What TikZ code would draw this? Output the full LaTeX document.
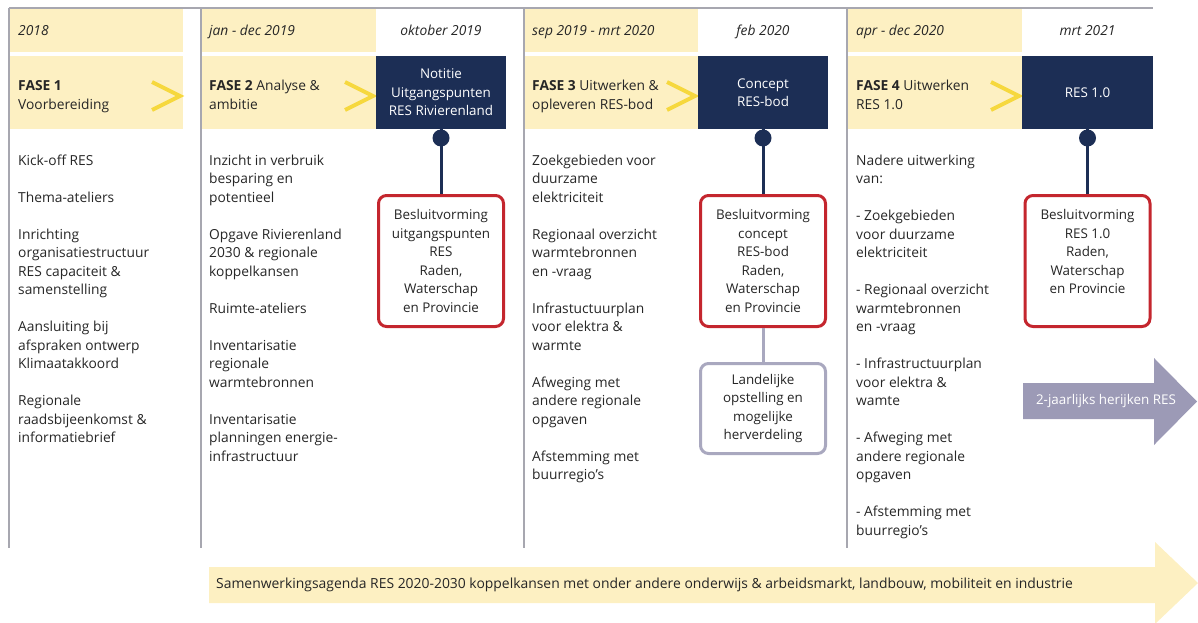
\documentclass[tikz,border=0pt]{standalone}
\usepackage{fontspec}
\setmainfont{Open Sans}
\usetikzlibrary{positioning}

\definecolor{navy}{HTML}{1C2E55}
\definecolor{fasegeel}{HTML}{FDF0C2}
\definecolor{chevgeel}{HTML}{F6D83E}
\definecolor{besluitrood}{HTML}{C4262E}
\definecolor{lijngrijs}{HTML}{A7A7B0}
\definecolor{kadergrijs}{HTML}{A9A8BF}
\definecolor{pijlgrijs}{HTML}{9C9AB6}
\definecolor{tekst}{HTML}{262626}

\newcommand{\bodyfont}{\fontsize{13.8}{18.5}\selectfont}
\newcommand{\boxfont}{\fontsize{13.4}{18.5}\selectfont}
\newcommand{\kolom}[1]{\parbox[t]{170pt}{\raggedright #1}}
\newcommand{\itemgap}{\\[18.5pt]}

\begin{document}
\begin{tikzpicture}[
    x=1pt, y=-1pt,
    kolomtekst/.style={anchor=base west, inner sep=0pt, font=\bodyfont, text=tekst},
    datum/.style={anchor=base, inner sep=0pt, font=\bodyfont\itshape, text=tekst},
    navybox/.style={fill=navy, text=white, font=\boxfont, align=center, minimum width=130pt, minimum height=73pt, inner sep=0pt, outer sep=0pt},
    besluit/.style={draw=besluitrood, line width=3pt, rounded corners=8pt, fill=white, font=\boxfont, text=tekst, align=center, minimum width=125pt, minimum height=131pt, inner sep=0pt},
    landelijk/.style={besluit, draw=kadergrijs},
    steel/.style={draw=navy, line width=3pt},
    chevron/.style={chevgeel, line width=4pt},
    kolomlijn/.style={lijngrijs, line width=1.5pt}
]
\useasboundingbox (0,0) rectangle (1198,623);

% gele vlakken met pijltjes
\foreach \xa/\xb in {10/183, 202/376, 525/698, 848/1022} {
  \fill[fasegeel] (\xa,9) rectangle (\xb,52);
  \fill[fasegeel] (\xa,56) rectangle (\xb,129);
  \draw[chevron] (\xb-31,82) -- (\xb-3,96) -- (\xb-31,110);
}

% kolomlijnen
\draw[kolomlijn] (9,8) -- (1153,8);
\foreach \x in {9,201,524,847} \draw[kolomlijn] (\x,8) -- (\x,548);

% periodes
\node[datum, anchor=base west] (jaar1) at (18,35.5) {2018};
\node[datum, anchor=base west] (jaar2) at (209,35.5) {jan - dec 2019};
\node[datum] (okt) at (441,35.5) {oktober 2019};
\node[datum, anchor=base west] (jaar3) at (532,35.5) {sep 2019 - mrt 2020};
\node[datum] (feb) at (763,35.5) {feb 2020};
\node[datum, anchor=base west] (jaar4) at (856,35.5) {apr - dec 2020};
\node[datum] (mrt) at (1087.5,35.5) {mrt 2021};

% fases
\node[kolomtekst] (fase1) at (18,91) {\kolom{\textbf{FASE 1}\\Voorbereiding}};
\node[kolomtekst] (fase2) at (209,91) {\kolom{\textbf{FASE 2} Analyse \&\\ambitie}};
\node[kolomtekst] (fase3) at (532,91) {\kolom{\textbf{FASE 3} Uitwerken \&\\opleveren RES-bod}};
\node[kolomtekst] (fase4) at (856,91) {\kolom{\textbf{FASE 4} Uitwerken\\RES 1.0}};

% mijlpalen
\node[navybox] (notitie) at (441,92.5) {Notitie\\Uitgangspunten\\RES Rivierenland};
\node[navybox] (concept) at (763,92.5) {Concept\\RES-bod};
\node[navybox, minimum width=131pt] (res) at (1087.5,92.5) {RES 1.0};

\node[besluit, below=65pt of notitie] (besluit1) {Besluitvorming\\uitgangspunten\\RES\\Raden,\\Waterschap\\en Provincie};
\node[besluit, below=65pt of concept] (besluit2) {Besluitvorming\\concept\\RES-bod\\Raden,\\Waterschap\\en Provincie};
\node[besluit, below=65pt of res] (besluit3) {Besluitvorming\\RES 1.0\\Raden,\\Waterschap\\en Provincie\\~};
\node[landelijk, minimum height=90pt, below=34pt of besluit2] (landelijk) {Landelijke\\opstelling en\\mogelijke\\herverdeling};

\draw[steel] (notitie.south) -- (besluit1.north);
\draw[steel] (concept.south) -- (besluit2.north);
\draw[steel] (res.south) -- (besluit3.north);
\draw[steel, draw=kadergrijs] (besluit2.south) -- (landelijk.north);
\fill[navy] ([yshift=-9pt]notitie.south) circle[radius=8.5pt];
\fill[navy] ([yshift=-9pt]concept.south) circle[radius=8.5pt];
\fill[navy] ([yshift=-9pt]res.south) circle[radius=8.5pt];

% activiteiten per fase
\node[kolomtekst] (acties1) at (18,165) {\kolom{Kick-off RES\itemgap Thema-ateliers\itemgap Inrichting\\organisatiestructuur\\RES capaciteit \&\\samenstelling\itemgap Aansluiting bij\\afspraken ontwerp\\Klimaatakkoord\itemgap Regionale\\raadsbijeenkomst \&\\informatiebrief}};
\node[kolomtekst] (acties2) at (209,165) {\kolom{Inzicht in verbruik\\besparing en\\potentieel\itemgap Opgave Rivierenland\\2030 \& regionale\\koppelkansen\itemgap Ruimte-ateliers\itemgap Inventarisatie\\regionale\\warmtebronnen\itemgap Inventarisatie\\planningen energie-\\infrastructuur}};
\node[kolomtekst] (acties3) at (532,165) {\kolom{Zoekgebieden voor\\duurzame\\elektriciteit\itemgap Regionaal overzicht\\warmtebronnen\\en -vraag\itemgap Infrastuctuurplan\\voor elektra \&\\warmte\itemgap Afweging met\\andere regionale\\opgaven\itemgap Afstemming met\\buurregio’s}};
\node[kolomtekst] (acties4) at (856,165) {\kolom{Nadere uitwerking\\van:\itemgap - Zoekgebieden\\voor duurzame\\elektriciteit\itemgap - Regionaal overzicht\\warmtebronnen\\en -vraag\itemgap - Infrastructuurplan\\voor elektra \&\\wamte\itemgap - Afweging met\\andere regionale\\opgaven\itemgap - Afstemming met\\buurregio’s}};

% herijken
\fill[pijlgrijs] (1023,383) -- (1154,383) -- (1154,358) -- (1197,401.5) -- (1154,445) -- (1154,419) -- (1023,419) -- cycle;
\node[font=\boxfont, text=white, inner sep=0pt] (herijken) at (1106,401) {2-jaarlijks herijken RES};

% samenwerkingsagenda
\fill[fasegeel] (209,567) -- (1155,567) -- (1155,542) -- (1198,583) -- (1155,624) -- (1155,603) -- (209,603) -- cycle;
\node[anchor=west, font=\fontsize{13.9}{16}\selectfont, text=tekst, inner sep=0pt] (agenda) at (216,585) {Samenwerkingsagenda RES 2020-2030 koppelkansen met onder andere onderwijs \& arbeidsmarkt, landbouw, mobiliteit en industrie};

\end{tikzpicture}
\end{document}
